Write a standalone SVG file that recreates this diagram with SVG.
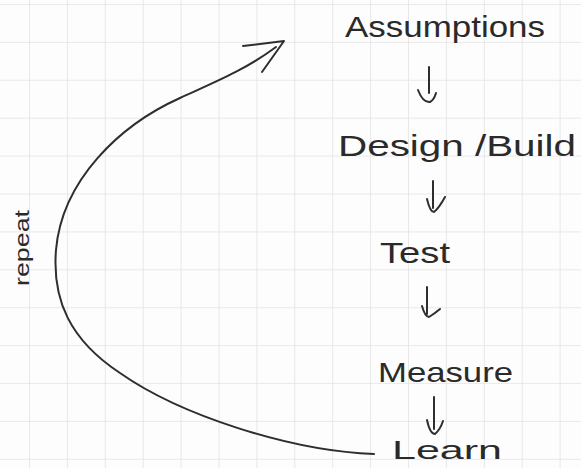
<svg xmlns="http://www.w3.org/2000/svg" width="581" height="468" viewBox="0 0 581 468">
  <defs>
    <!-- squared notebook paper -->
    <pattern id="grid" patternUnits="userSpaceOnUse" x="29" y="4" width="37.9" height="37.9">
      <path d="M0,0 H37.9 M0,0 V37.9" fill="none" stroke="#e3e3e3" stroke-width="1.6"/>
    </pattern>
    <style>
      .ink { fill: none; stroke: #2e2e2e; stroke-width: 2; stroke-linecap: round; stroke-linejoin: round; }
      .label { font-family: "Liberation Sans", Arial, sans-serif; fill: #2a2a2a; }
    </style>
  </defs>

  <rect width="581" height="468" fill="#fdfdfd"/>
  <rect width="581" height="468" fill="url(#grid)"/>

  <!-- steps of the loop -->
  <g id="assumptions">
    <text class="label" x="345" y="37" font-size="30" textLength="200" lengthAdjust="spacingAndGlyphs">Assumptions</text>
  </g>
  <g id="design-build">
    <text class="label" x="338" y="156" font-size="30" textLength="238" lengthAdjust="spacingAndGlyphs">Design /Build</text>
  </g>
  <g id="test">
    <text class="label" x="380" y="263" font-size="30" textLength="70" lengthAdjust="spacingAndGlyphs">Test</text>
  </g>
  <g id="measure">
    <text class="label" x="378" y="382" font-size="28" textLength="135" lengthAdjust="spacingAndGlyphs">Measure</text>
  </g>
  <g id="learn">
    <text class="label" x="392" y="459" font-size="26" textLength="110" lengthAdjust="spacingAndGlyphs">Learn</text>
  </g>
  <g id="repeat">
    <text class="label" transform="translate(29,248) rotate(-90)" x="0" y="0" font-size="20" text-anchor="middle" textLength="76" lengthAdjust="spacingAndGlyphs">repeat</text>
  </g>

  <!-- connectors -->
  <g id="connectors">
    <!-- Assumptions -> Design /Build -->
    <path class="ink" d="M429,67 L429,93 M418,90 Q423,103 430,102 Q434,100 436,93"/>
    <!-- Design /Build -> Test -->
    <path class="ink" d="M433,181 L433,208 M427,199 Q430,212 434,212 Q439,208 445,197"/>
    <!-- Test -> Measure -->
    <path class="ink" d="M427,287 L427,314 M422,306 Q425,317 429,317 Q434,314 440,309"/>
    <!-- Measure -> Learn -->
    <path class="ink" d="M434,397 L434,429 M427,420 Q430,434 435,434 Q440,430 443,421"/>
    <!-- repeat loop from Learn back to Assumptions -->
    <path class="ink" d="M374,454 C290,451 180,415 120,373 C70,340 52,300 56,250 C62,180 120,125 180,98 C215,82 245,70 276,47"/>
    <path class="ink" d="M243,46 L284,41 L262,72"/>
  </g>
</svg>
